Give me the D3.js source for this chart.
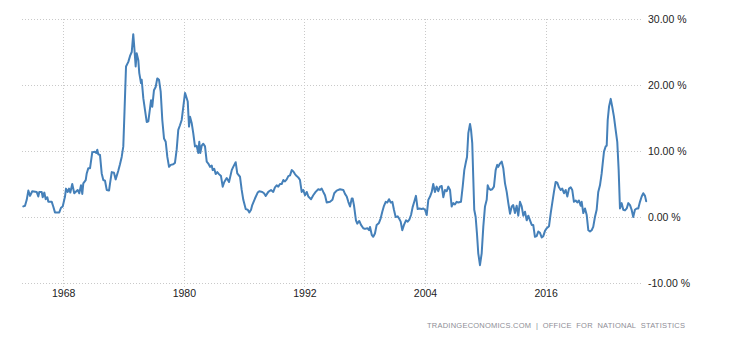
<!DOCTYPE html>
<html>
<head>
<meta charset="utf-8">
<script src="https://cdn.jsdelivr.net/npm/d3@7"></script>
<style>
  html, body { margin: 0; padding: 0; background: #fff; }
  svg { display: block; }
</style>
</head>
<body>
<svg id="chart" width="730" height="340"></svg>
<script>
// ---- data ----
const years = [
1964.03,1964.20,1964.37,1964.53,1964.70,1964.92,1965.36,1965.52,1965.62,1965.86,1965.96,1966.12,1966.26,1966.42,1966.52,1966.86,1967.01,1967.18,1967.61,1967.78,1967.95,
1968.18,1968.28,1968.45,1968.58,1968.71,1968.90,1969.10,1969.44,1969.60,1969.77,1969.90,1970.00,1970.24,1970.34,1970.50,1970.67,1970.89,1971.16,1971.29,1971.39,1971.49,1971.66,1971.83,1971.99,
1972.16,1972.33,1972.56,1972.66,1972.83,1973.05,1973.22,1973.48,1973.65,1973.82,1973.98,1974.10,1974.25,1974.48,1974.65,1974.82,1974.97,1975.07,1975.21,1975.31,1975.47,1975.57,1975.74,1975.81,1975.97,
1976.14,1976.31,1976.47,1976.64,1976.74,1976.86,1977.03,1977.20,1977.36,1977.53,1977.70,1977.86,1978.03,1978.20,1978.36,1978.53,1978.70,1978.95,1979.12,1979.29,1979.45,1979.62,1979.79,1979.95,
1980.12,1980.29,1980.39,1980.52,1980.62,1980.79,1980.94,1981.11,1981.28,1981.44,1981.54,1981.64,1981.78,1981.94,1982.11,1982.28,1982.44,1982.61,1982.78,1982.87,1983.03,1983.17,1983.33,1983.50,1983.70,1983.87,
1984.03,1984.27,1984.50,1984.77,1984.92,1985.16,1985.32,1985.59,1985.76,1985.92,1986.16,1986.36,1986.52,1986.69,1986.81,1987.08,1987.35,1987.51,1987.81,1987.98,1988.15,1988.41,1988.68,1988.90,
1989.07,1989.24,1989.40,1989.57,1989.74,1989.90,1990.07,1990.24,1990.40,1990.57,1990.74,1990.90,1991.06,1991.23,1991.39,1991.56,1991.73,1991.89,1992.06,1992.23,1992.39,1992.66,1992.88,
1993.12,1993.38,1993.55,1993.72,1993.88,1994.05,1994.22,1994.55,1994.79,1994.97,1995.21,1995.54,1995.87,1996.04,1996.21,1996.37,1996.54,1996.71,1996.80,1996.93,1997.13,1997.26,1997.46,1997.63,1997.86,
1998.03,1998.26,1998.43,1998.53,1998.70,1998.85,1999.02,1999.19,1999.42,1999.59,1999.75,1999.92,2000.09,2000.25,2000.42,2000.59,2000.75,2000.91,2001.08,2001.28,2001.41,2001.58,2001.74,2001.91,
2002.11,2002.28,2002.44,2002.61,2002.77,2002.93,2003.10,2003.27,2003.43,2003.67,2003.83,2004.00,2004.17,2004.33,2004.50,2004.67,2004.82,2004.99,2005.16,2005.32,2005.49,2005.66,2005.82,2005.99,
2006.16,2006.32,2006.49,2006.65,2006.81,2006.98,2007.15,2007.31,2007.58,2007.75,2007.91,2008.08,2008.18,2008.31,2008.48,2008.58,2008.70,2008.80,2008.90,2009.04,2009.17,2009.30,2009.47,2009.64,2009.80,2009.97,
2010.14,2010.24,2010.37,2010.54,2010.69,2010.86,2011.03,2011.19,2011.29,2011.46,2011.63,2011.79,2011.96,2012.13,2012.29,2012.46,2012.63,2012.78,2012.95,2013.12,2013.28,2013.45,2013.62,2013.78,2013.95,
2014.12,2014.28,2014.45,2014.62,2014.77,2014.94,2015.11,2015.27,2015.44,2015.61,2015.77,2015.94,2016.11,2016.34,2016.51,2016.66,2016.83,2017.00,2017.16,2017.33,2017.50,2017.66,2017.83,
2018.00,2018.16,2018.33,2018.50,2018.65,2018.82,2018.99,2019.15,2019.32,2019.49,2019.59,2019.75,2019.92,2020.09,2020.25,2020.42,2020.58,2020.74,2020.91,2021.08,2021.24,2021.41,2021.58,2021.68,2021.81,2021.98,
2022.08,2022.18,2022.31,2022.48,2022.63,2022.80,2022.97,2023.13,2023.27,2023.40,2023.57,2023.73,2023.90,2024.07,2024.23,2024.40,2024.56,2024.72,2024.89,2025.06,2025.22,2025.39,2025.56,2025.72,2025.89,2026.01
];
const values = [
1.6,1.7,2.6,4.0,3.2,3.9,3.8,3.1,3.8,3.8,3.0,3.7,2.7,3.0,2.3,2.3,1.6,0.7,0.7,1.4,1.6,
3.1,4.3,3.8,4.3,3.7,5.0,3.6,4.1,3.6,4.8,3.5,5.1,5.6,6.6,7.4,7.4,9.8,9.9,9.7,10.2,9.5,9.4,6.6,5.6,
5.5,4.1,4.0,5.1,6.8,6.7,5.7,7.0,8.0,9.1,10.7,16.0,22.8,23.5,24.4,25.0,27.7,25.8,22.8,24.8,23.8,21.8,20.3,20.8,18.0,
16.2,14.4,14.5,16.5,17.7,16.7,19.2,19.7,21.0,20.8,19.0,14.7,11.9,11.4,9.1,7.6,7.9,8.0,8.2,10.2,13.2,13.9,14.7,16.7,
18.8,18.0,17.5,13.7,15.2,14.2,12.7,10.7,10.8,9.7,11.4,9.7,10.8,11.1,10.7,8.4,8.1,7.6,7.8,7.1,7.3,6.5,6.8,6.5,6.2,4.6,
5.3,5.9,5.3,7.1,7.6,8.3,6.6,6.1,4.1,2.6,1.2,1.1,0.7,1.1,1.8,2.8,3.7,3.9,3.8,3.6,3.2,3.8,4.1,3.8,
4.5,4.8,4.6,5.0,5.0,5.6,5.4,5.7,6.2,6.3,7.1,6.9,6.5,6.2,6.0,5.6,3.8,4.1,3.3,3.8,3.1,2.7,3.3,
3.8,4.2,4.1,4.3,3.8,3.3,2.2,2.3,2.6,3.6,4.0,4.2,4.1,3.5,3.1,2.3,1.6,2.8,2.8,1.8,-0.5,-1.0,-0.6,-1.2,-1.7,
-1.8,-1.7,-2.0,-1.5,-2.7,-3.0,-2.5,-1.2,-0.9,-0.2,0.8,1.7,2.3,2.2,2.7,2.2,2.3,1.1,0.0,0.1,-0.2,-0.7,-2.0,-1.2,
-0.5,-0.7,-0.4,0.3,1.5,2.3,3.2,1.2,1.3,1.2,1.3,1.1,0.3,2.6,3.1,3.8,5.0,3.8,4.6,3.9,4.6,4.7,3.0,4.1,
3.9,4.6,4.1,1.6,2.1,1.9,2.3,2.2,2.3,4.6,7.1,8.4,9.1,12.7,14.1,13.2,11.2,6.1,1.1,0.0,-2.5,-5.5,-7.3,-5.5,-1.5,1.6,
2.6,4.8,4.3,4.1,4.2,4.6,7.1,7.9,7.6,8.1,8.4,7.4,5.1,3.8,2.1,0.5,1.6,1.8,0.6,1.7,0.2,2.3,1.6,0.2,0.8,
-0.5,0.2,-0.5,-1.2,-1.2,-3.0,-2.9,-2.2,-2.4,-3.1,-2.9,-2.1,-1.7,-1.4,0.6,2.1,3.8,5.3,5.2,4.5,4.1,4.3,3.6,
4.1,3.1,4.3,4.5,4.1,2.3,2.5,2.2,2.5,1.7,2.3,0.6,1.3,0.3,-2.0,-2.2,-2.0,-1.5,0.0,1.1,3.8,4.8,6.6,8.1,9.9,10.7,
10.8,14.7,16.7,17.9,16.7,15.2,13.2,11.4,7.1,1.3,2.1,1.1,1.0,1.3,2.1,1.8,1.1,0.0,1.1,1.3,1.3,2.3,3.1,3.6,3.2,2.4
];
const xTickYears = [1968, 1980, 1992, 2004, 2016];
const yTickValues = [-10, 0, 10, 20, 30];
const yTickLabels = ["-10.00 %", "0.00 %", "10.00 %", "20.00 %", "30.00 %"];
const sourceText = "TRADINGECONOMICS.COM  |  OFFICE  FOR  NATIONAL  STATISTICS";

// ---- layout ----
const svg = d3.select("#chart");
const plotLeft = 22, plotRight = 643, lineRight = 646.1;
const x = d3.scaleLinear().domain([1963.9, 2026.0]).range([plotLeft, lineRight]);
const y = d3.scaleLinear().domain([-10, 30]).range([283, 19]);

const gridColor = "#c9c9c9";

// horizontal grid
svg.append("g").selectAll("line").data(yTickValues).join("line")
  .attr("x1", plotLeft).attr("x2", plotRight)
  .attr("y1", d => Math.round(y(d)) + 0.5).attr("y2", d => Math.round(y(d)) + 0.5)
  .attr("stroke", gridColor).attr("stroke-width", 1).attr("stroke-dasharray", "1,2");

// vertical grid
svg.append("g").selectAll("line").data(xTickYears).join("line")
  .attr("x1", d => Math.round(x(d)) + 0.5).attr("x2", d => Math.round(x(d)) + 0.5)
  .attr("y1", 19).attr("y2", 287)
  .attr("stroke", gridColor).attr("stroke-width", 1).attr("stroke-dasharray", "1,2");

// x axis labels
const xAxis = d3.axisBottom(x).tickValues(xTickYears).tickFormat(d3.format("d")).tickSize(0).tickPadding(0);
const gx = svg.append("g").attr("transform", "translate(0,290)").call(xAxis);
gx.select(".domain").remove();
gx.selectAll("text").attr("fill", "#222").attr("dy", "0.71em")
  .style("font-family", "'Liberation Sans', Arial, sans-serif").style("font-size", "10.5px");

// y axis labels on right
const yAxis = d3.axisRight(y).tickValues(yTickValues)
  .tickFormat((d, i) => yTickLabels[yTickValues.indexOf(d)]).tickSize(0).tickPadding(0);
const gy = svg.append("g").attr("transform", "translate(648,0)").call(yAxis);
gy.select(".domain").remove();
gy.selectAll("text").attr("fill", "#222")
  .style("font-family", "'Liberation Sans', Arial, sans-serif").style("font-size", "10.5px");

// line
const line = d3.line().x((d, i) => x(years[i])).y(d => y(d)).curve(d3.curveLinear);
svg.append("path").datum(values)
  .attr("d", line)
  .attr("fill", "none")
  .attr("stroke", "#4580b9")
  .attr("stroke-width", 2)
  .attr("stroke-linejoin", "round")
  .attr("stroke-linecap", "round");

// source
svg.append("text")
  .attr("x", 685).attr("y", 327.5)
  .attr("text-anchor", "end")
  .attr("fill", "#8e8e96")
  .attr("textLength", 258).attr("lengthAdjust", "spacing")
  .style("font-family", "'Liberation Sans', Arial, sans-serif").style("font-size", "7.5px")
  .style("white-space", "pre")
  .text(sourceText);
</script>
</body>
</html>
